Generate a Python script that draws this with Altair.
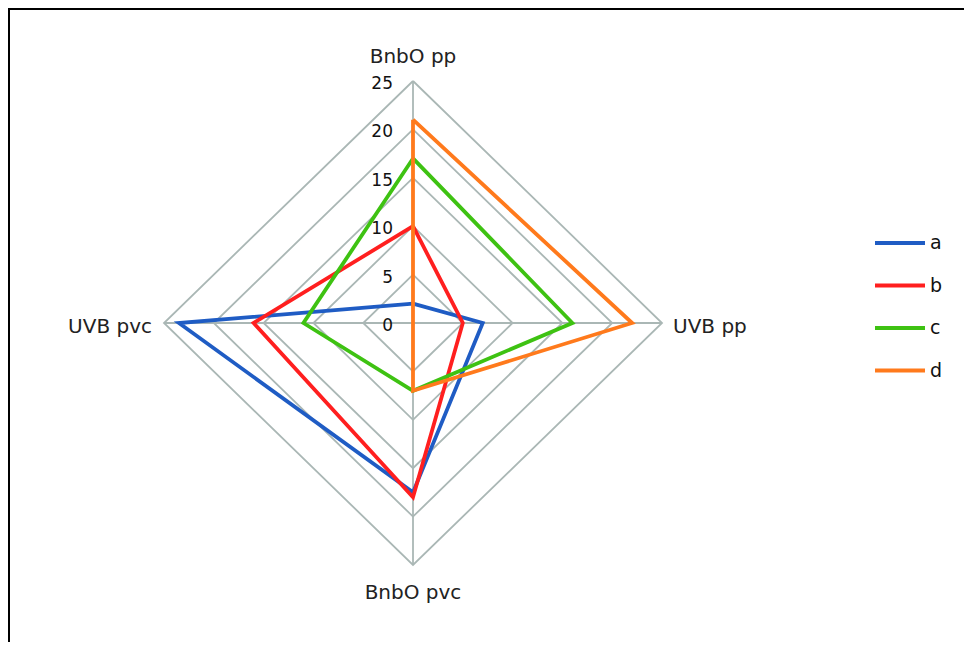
import altair as alt
import pandas as pd

# ---- data ----
axis_names = ["BnbO pp", "UVB pp", "BnbO pvc", "UVB pvc"]   # top, right, bottom, left
series_names = ["a", "b", "c", "d"]
a_vals = [2, 7, 17.5, 23.5]
b_vals = [10, 5, 18, 16]
c_vals = [17, 16, 7, 11]
d_vals = [21, 22, 7, 0]
grid_levels = [5, 10, 15, 20, 25]
tick_labels = [0, 5, 10, 15, 20, 25]
colors = ["#1f5cc4", "#ff1f1f", "#3ec212", "#ff7a1c"]

W, H = 956, 634
RMAX = max(grid_levels)
grid_color = "#aab7b5"
FONT = "DejaVu Sans"

# ---- tables built from the lists ----
all_vals = [a_vals, b_vals, c_vals, d_vals]
series_rows = []
for s, vals in zip(series_names, all_vals):
    n = len(vals)
    for i in range(n + 1):
        series_rows.append({"series": s, "idx": i, "value": vals[i % n]})
series_df = pd.DataFrame(series_rows)

grid_rows = []
for lv in grid_levels:
    for i in range(len(axis_names) + 1):
        grid_rows.append({"level": lv, "idx": i, "value": lv})
grid_df = pd.DataFrame(grid_rows)

axes_df = pd.DataFrame({"name": axis_names, "idx": list(range(len(axis_names)))})
ticks_df = pd.DataFrame({"t": tick_labels, "label": [str(t) for t in tick_labels]})

xs = alt.Scale(domain=[-RMAX, RMAX], range=[156, 654], nice=False, zero=False)
ys = alt.Scale(domain=[-RMAX, RMAX], range=[557, 73], nice=False, zero=False)

N = len(axis_names)
ang = f"datum.idx*2*PI/{N}"


def polar(chart, rexpr="datum.value"):
    return chart.transform_calculate(
        px=f"({rexpr})*sin({ang})", py=f"({rexpr})*cos({ang})"
    )


grid = polar(alt.Chart(grid_df)).mark_line(
    color=grid_color, strokeWidth=1.8
).encode(
    x=alt.X("px:Q", scale=xs, axis=None),
    y=alt.Y("py:Q", scale=ys, axis=None),
    detail="level:N",
    order="idx:Q",
)

spokes = alt.Chart(axes_df).transform_calculate(
    zero="0", ex=f"{RMAX}*sin({ang})", ey=f"{RMAX}*cos({ang})"
).mark_rule(color=grid_color, strokeWidth=1.8).encode(
    x=alt.X("zero:Q", scale=xs, axis=None),
    y=alt.Y("zero:Q", scale=ys, axis=None),
    x2="ex:Q",
    y2="ey:Q",
)

lines = polar(alt.Chart(series_df)).mark_line(strokeWidth=3.8).encode(
    x=alt.X("px:Q", scale=xs, axis=None),
    y=alt.Y("py:Q", scale=ys, axis=None),
    color=alt.Color(
        "series:N",
        scale=alt.Scale(domain=series_names, range=colors),
        legend=alt.Legend(
            title=None,
            orient="none",
            legendX=865,
            legendY=208,
            symbolType="stroke",
            symbolSize=2500,
            symbolStrokeWidth=3.8,
            labelFontSize=19,
            labelFont=FONT,
            labelColor="#111111",
            labelOffset=3,
            rowPadding=5.5,
            padding=0,
        ),
    ),
    order="idx:Q",
)


def axis_label(i, align, dx, dy):
    return alt.Chart(axes_df).transform_filter(f"datum.idx == {i}").transform_calculate(
        px=f"{RMAX}*sin({ang})", py=f"{RMAX}*cos({ang})"
    ).mark_text(
        align=align, baseline="middle", dx=dx, dy=dy, fontSize=20, font=FONT, color="#222222"
    ).encode(
        x=alt.X("px:Q", scale=xs, axis=None),
        y=alt.Y("py:Q", scale=ys, axis=None),
        text="name:N",
    )


labels = [
    axis_label(0, "center", 0, -24),
    axis_label(1, "left", 11, 4),
    axis_label(2, "center", 0, 28),
    axis_label(3, "right", -12, 4),
]

ticks = alt.Chart(ticks_df).transform_calculate(zero="0").mark_text(
    align="right", baseline="middle", dx=-20, dy=3, fontSize=17, font=FONT, color="#111111"
).encode(
    x=alt.X("zero:Q", scale=xs, axis=None),
    y=alt.Y("t:Q", scale=ys, axis=None),
    text="label:N",
)

one = pd.DataFrame({"k": [0]})
border_top = alt.Chart(one).mark_rule(color="black", strokeWidth=2).encode(
    x=alt.value(0), x2=alt.value(W), y=alt.value(1)
)
border_left = alt.Chart(one).mark_rule(color="black", strokeWidth=2).encode(
    x=alt.value(1), y=alt.value(0), y2=alt.value(H)
)

chart = alt.layer(grid, spokes, lines, *labels, ticks, border_top, border_left).properties(
    width=W, height=H, padding=0, autosize=alt.AutoSizeParams(type="none")
).configure_view(stroke=None).configure(background="white")

chart.save("out.html", embed_options={"renderer": "svg", "actions": False})
